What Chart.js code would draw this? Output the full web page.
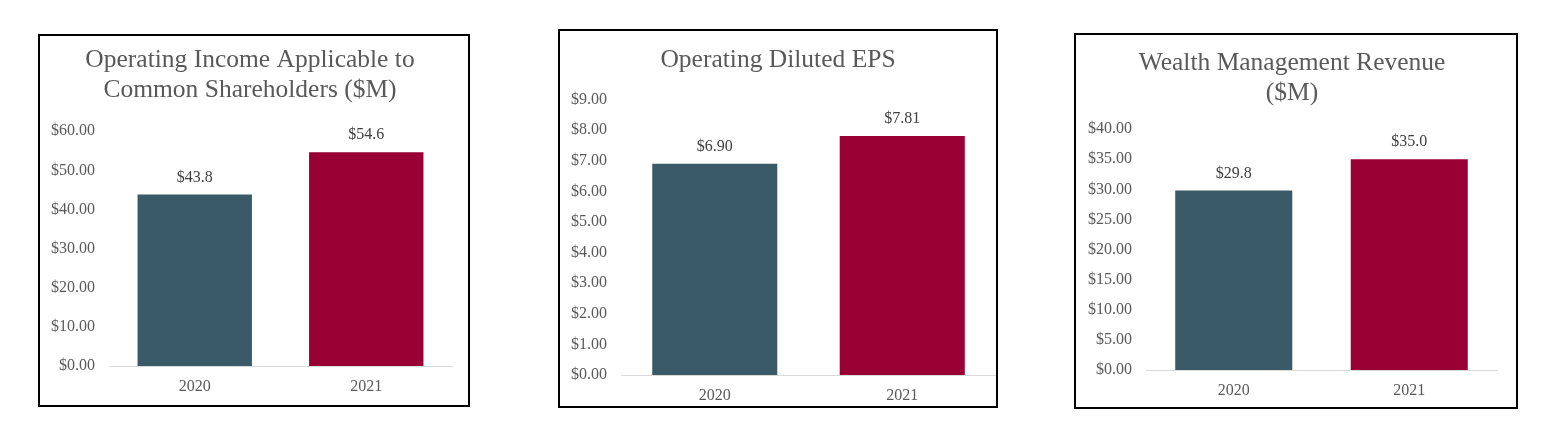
<!DOCTYPE html>
<html>
<head>
<meta charset="utf-8">
<script src="https://cdn.jsdelivr.net/npm/chart.js@4.4.1/dist/chart.umd.min.js"></script>
<style>
  html, body { margin: 0; padding: 0; background: #fff; }
  body { width: 1548px; height: 435px; position: relative; overflow: hidden; }
  .box { position: absolute; border: 2px solid #000; box-sizing: border-box; background: #fff; }
  .box canvas { display: block; }
</style>
</head>
<body>
<div class="box" style="left:38px;top:34px;width:432px;height:373px;"><canvas id="incomeChart"></canvas></div>
<div class="box" style="left:558px;top:29px;width:440px;height:379px;"><canvas id="epsChart"></canvas></div>
<div class="box" style="left:1074px;top:33px;width:444px;height:376px;"><canvas id="wealthChart"></canvas></div>
<script>
/* ---------- data ---------- */
const years = ['2020', '2021'];
const barColors = ['#3b5a68', '#990033'];

const incomeTitle = ['Operating Income Applicable to', 'Common Shareholders ($M)'];
const incomeValues = [43.8, 54.6];
const incomeTicks = { max: 60, step: 10 };

const epsTitle = 'Operating Diluted EPS';
const epsValues = [6.90, 7.81];
const epsTicks = { max: 9, step: 1 };

const wealthTitle = ['Wealth Management Revenue', '($M)'];
const wealthValues = [29.8, 35.0];
const wealthTicks = { max: 40, step: 5 };

const FONT = '"Liberation Serif", "Times New Roman", serif';

/* value label above each bar */
const valueLabels = {
  id: 'valueLabels',
  afterDatasetsDraw(chart, args, opts) {
    const { ctx } = chart;
    const meta = chart.getDatasetMeta(0);
    const values = chart.data.datasets[0].data;
    ctx.save();
    ctx.font = '16px ' + FONT;
    ctx.fillStyle = '#404040';
    ctx.textAlign = 'center';
    ctx.textBaseline = 'middle';
    meta.data.forEach((bar, i) => {
      ctx.fillText('$' + values[i].toFixed(opts.decimals), bar.x, bar.y - 17);
    });
    ctx.restore();
  }
};

function makeChart(id, title, values, ticks, lay) {
  const ctx = document.getElementById(id);
  return new Chart(ctx.getContext('2d'), {
    type: 'bar',
    data: {
      labels: years,
      datasets: [{
        data: values,
        backgroundColor: barColors,
        borderWidth: 0,
        categoryPercentage: 1,
        barPercentage: 0.667
      }]
    },
    options: {
      responsive: true,
      maintainAspectRatio: false,
      animation: false,
      layout: { padding: { left: lay.left, right: lay.right, top: 0, bottom: lay.bottom } },
      plugins: {
        legend: { display: false },
        tooltip: { enabled: false },
        title: {
          display: true,
          text: title,
          color: '#595959',
          font: { family: FONT, size: 25.5, weight: 'normal', lineHeight: 1.16 },
          padding: { top: lay.titleTop, bottom: lay.titleBottom }
        },
        valueLabels: { decimals: lay.decimals }
      },
      scales: {
        x: {
          afterFit: scale => { scale.height = 30; },
          grid: { display: false, drawTicks: false },
          border: { display: true, color: '#d9d9d9', width: 1 },
          ticks: { color: '#595959', padding: 11, font: { family: FONT, size: 16 } }
        },
        y: {
          min: 0,
          max: ticks.max,
          afterFit: scale => { scale.width = lay.axisWidth; },
          grid: { display: false, drawTicks: false },
          border: { display: false },
          ticks: {
            stepSize: ticks.step,
            color: '#595959',
            padding: 14,
            font: { family: FONT, size: 16 },
            callback: v => '$' + Number(v).toFixed(2)
          }
        }
      }
    },
    plugins: [valueLabels]
  });
}

makeChart('incomeChart', incomeTitle, incomeValues, incomeTicks,
  { left: 8, right: 16, bottom: 9, titleTop: 10, titleBottom: 26, axisWidth: 61, decimals: 1 });
makeChart('epsChart', epsTitle, epsValues, epsTicks,
  { left: 0, right: 0, bottom: 1, titleTop: 15, titleBottom: 24, axisWidth: 61, decimals: 2 });
makeChart('wealthChart', wealthTitle, wealthValues, wealthTicks,
  { left: 11, right: 19, bottom: 7, titleTop: 14, titleBottom: 21, axisWidth: 59, decimals: 1 });
</script>
</body>
</html>
